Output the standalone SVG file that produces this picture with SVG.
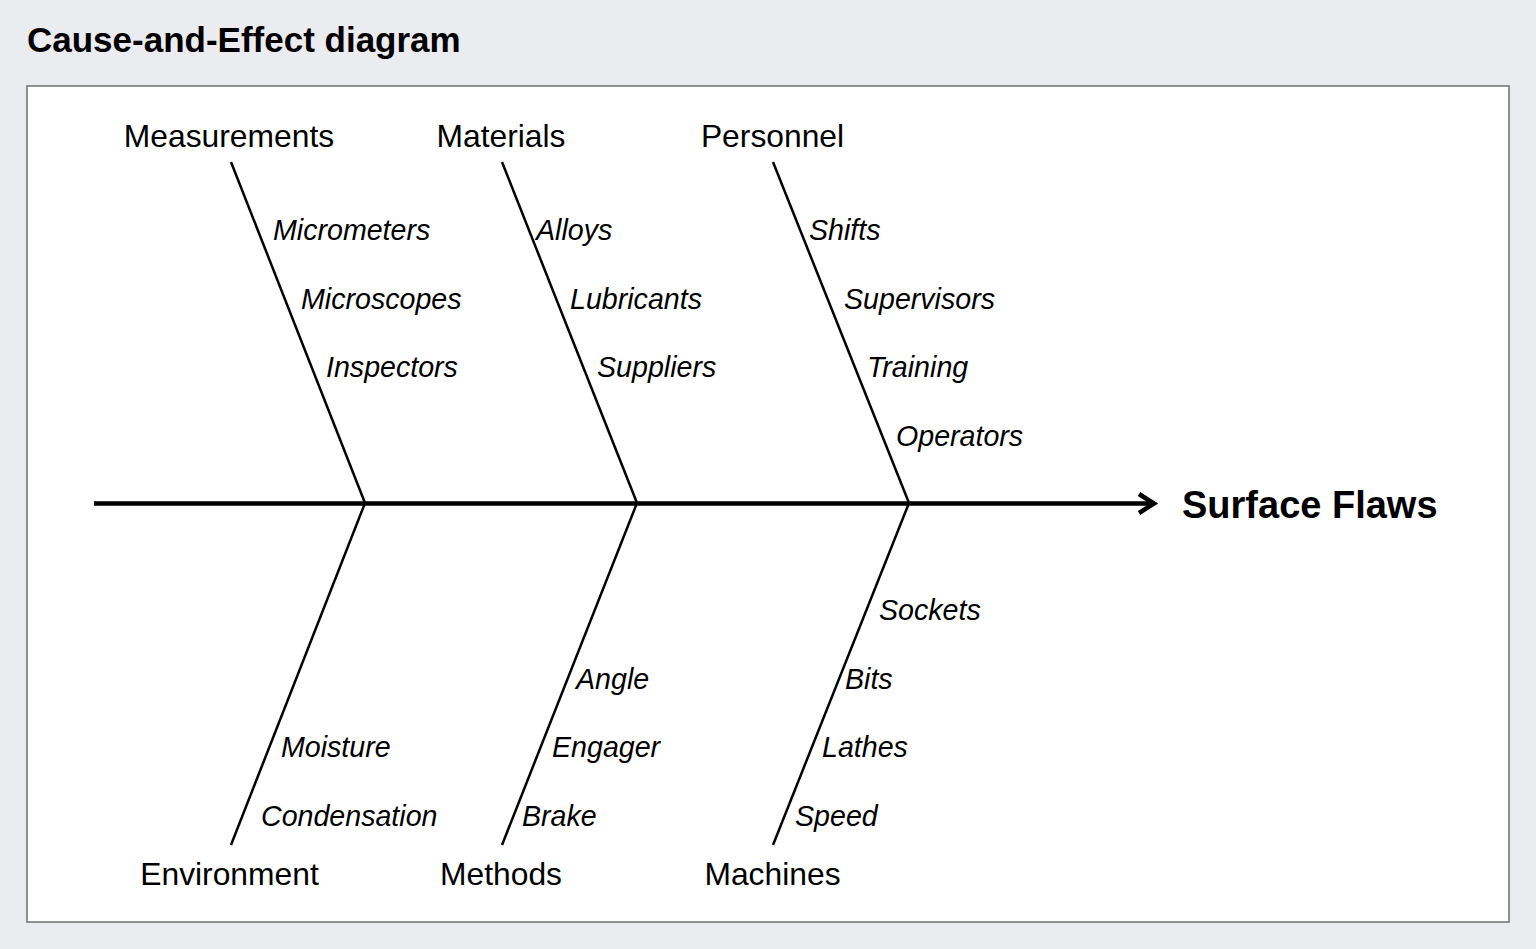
<svg xmlns="http://www.w3.org/2000/svg" width="1536" height="949" viewBox="0 0 1536 949">
<style>
.bg{fill:#ebecf0}
.frame{fill:#fff;stroke:#777;stroke-width:1.6}
.title{font-family:"Liberation Sans",Arial,sans-serif;font-weight:bold;font-size:35px;fill:#000}
.effect{font-family:"Liberation Sans",Arial,sans-serif;font-weight:bold;font-size:38px;fill:#000}
.cat{font-family:"Liberation Sans",Arial,sans-serif;font-size:31.8px;fill:#000;text-anchor:middle}
.sub{font-family:"Liberation Sans",Arial,sans-serif;font-size:28.6px;font-style:italic;fill:#000}
.bone{stroke:#000;stroke-width:2.5;fill:none}
.spine{stroke:#000;stroke-width:4.5;fill:none}
</style>
<rect class="bg" x="0" y="0" width="1536" height="949"/>
<text class="title" x="27" y="52">Cause-and-Effect diagram</text>
<rect class="frame" x="27" y="86" width="1482" height="836"/>
<g id="connectors">
<line class="spine" x1="94" y1="503.5" x2="1153" y2="503.5"/>
<polyline class="spine" points="1139,494 1154,503.5 1139,513" stroke-linejoin="miter"/>
<line class="bone" x1="231" y1="162" x2="365" y2="503"/>
<line class="bone" x1="502" y1="162" x2="637" y2="503"/>
<line class="bone" x1="773" y1="162" x2="909" y2="503"/>
<line class="bone" x1="365" y1="503" x2="231" y2="845"/>
<line class="bone" x1="637" y1="503" x2="502" y2="845"/>
<line class="bone" x1="909" y1="503" x2="773" y2="845"/>
</g>
<g id="effect"><text class="effect" x="1182" y="518">Surface Flaws</text></g>
<g id="measurements">
<text class="cat" x="229" y="147">Measurements</text>
<text class="sub" x="273" y="240">Micrometers</text>
<text class="sub" x="301" y="308.5">Microscopes</text>
<text class="sub" x="326" y="377">Inspectors</text>
</g>
<g id="materials">
<text class="cat" x="501" y="147">Materials</text>
<text class="sub" x="536" y="240">Alloys</text>
<text class="sub" x="570" y="308.5">Lubricants</text>
<text class="sub" x="597" y="377">Suppliers</text>
</g>
<g id="personnel">
<text class="cat" x="772.5" y="147">Personnel</text>
<text class="sub" x="809" y="240">Shifts</text>
<text class="sub" x="844" y="308.5">Supervisors</text>
<text class="sub" x="867" y="377">Training</text>
<text class="sub" x="896" y="445.5">Operators</text>
</g>
<g id="environment">
<text class="cat" x="229.5" y="885">Environment</text>
<text class="sub" x="281" y="757">Moisture</text>
<text class="sub" x="261" y="826">Condensation</text>
</g>
<g id="methods">
<text class="cat" x="501" y="885">Methods</text>
<text class="sub" x="576" y="689">Angle</text>
<text class="sub" x="552" y="757">Engager</text>
<text class="sub" x="522" y="826">Brake</text>
</g>
<g id="machines">
<text class="cat" x="772.5" y="885">Machines</text>
<text class="sub" x="879" y="620">Sockets</text>
<text class="sub" x="845" y="689">Bits</text>
<text class="sub" x="822" y="757">Lathes</text>
<text class="sub" x="795" y="826">Speed</text>
</g>
</svg>
